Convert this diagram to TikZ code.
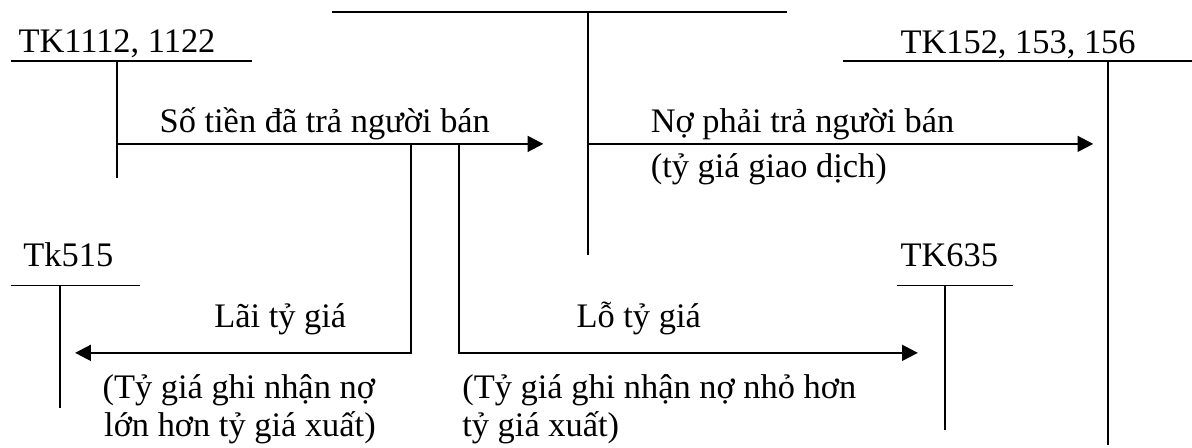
\documentclass[tikz,border=0pt]{standalone}
\usepackage{fontspec}
\setmainfont{Liberation Serif}
\usetikzlibrary{arrows.meta}
\tikzset{
    tline/.style={line width=0.6pt}, % T字账户的线
    flow/.style={line width=0.8pt, -{Triangle[length=5.5pt, width=5.5pt]}}, % 带箭头的连线
    txt/.style={inner sep=0pt, anchor=base west} % 文字标签
}
\begin{document}
\begin{tikzpicture}[font=\fontsize{12}{14}\selectfont]
    \def\xmax{14.61} \def\ymax{5.49}
    \useasboundingbox (0,0) rectangle (\xmax,\ymax);

    % T accounts
    \node[txt] (tk111) at (0.22,4.85) {TK1112, 1122};
    \draw[tline] (0.13,4.74) -- (3.09,4.74);
    \coordinate (c111) at (1.43,4.74);
    \draw[tline] (c111) -- (1.43,3.31);

    \draw[tline] (4.07,5.34) -- (9.65,5.34);
    \coordinate (cmid) at (7.21,5.34);
    \draw[tline] (cmid) -- (7.21,2.37);

    \node[txt] (tk152) at (11.03,4.84) {TK152, 153, 156};
    \draw[tline] (10.33,4.74) -- (\xmax,4.74);
    \coordinate (c152) at (13.58,4.74);
    \draw[tline] (c152) -- (13.58,0.04);

    \node[txt] (tk515) at (0.28,2.22) {Tk515};
    \draw[tline] (0.13,1.99) -- (1.72,1.99);
    \coordinate (c515) at (0.735,1.99);
    \draw[tline] (c515) -- (0.735,0.49);

    \node[txt] (tk635) at (11.03,2.22) {TK635};
    \draw[tline] (11.0,1.99) -- (12.41,1.99);
    \coordinate (c635) at (11.58,1.99);
    \draw[tline] (c635) -- (11.58,0.22);

    % flows
    \coordinate (a1) at (1.43,3.726);   \coordinate (a1e) at (6.66,3.726);
    \coordinate (a2) at (7.21,3.726);   \coordinate (a2e) at (13.40,3.726);
    \coordinate (lai) at (5.04,3.726);  \coordinate (laie) at (0.92,1.165);
    \coordinate (lo) at (5.63,3.726);   \coordinate (loe) at (11.25,1.165);
    \draw[flow] (a1) -- (a1e);
    \draw[flow] (a2) -- (a2e);
    \draw[flow] (lai) |- (laie);
    \draw[flow] (lo) |- (loe);

    \node[txt] (ltra) at (1.95,3.86) {Số tiền đã trả người bán};
    \node[txt] (lno) at (7.97,3.87) {Nợ phải trả người bán};
    \node[txt] (lgd) at (7.97,3.32) {(tỷ giá giao dịch)};
    \node[txt] (llai) at (2.62,1.47) {Lãi tỷ giá};
    \node[txt] (llo) at (7.06,1.47) {Lỗ tỷ giá};
    \node[txt] (llai1) at (1.25,0.61) {(Tỷ giá ghi nhận nợ};
    \node[txt] (llai2) at (1.27,0.135) {lớn hơn tỷ giá xuất)};
    \node[txt] (llo1) at (5.66,0.61) {(Tỷ giá ghi nhận nợ nhỏ hơn};
    \node[txt] (llo2) at (5.66,0.135) {tỷ giá xuất)};
\end{tikzpicture}
\end{document}
